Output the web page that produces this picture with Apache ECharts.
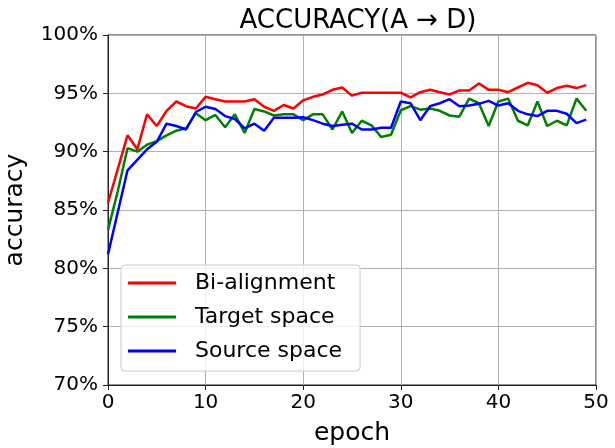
<!DOCTYPE html>
<html>
<head>
<meta charset="utf-8">
<script src="https://cdn.jsdelivr.net/npm/echarts@6/dist/echarts.min.js"></script>
<style>
html,body{margin:0;padding:0;background:#fff;}
#chart{width:615px;height:448px;}
</style>
</head>
<body>
<div id="chart"></div>
<script>
var epochs = [];
for (var i = 0; i < 50; i++) epochs.push(i);

var seriesNames = ['Bi-alignment', 'Target space', 'Source space'];

var biAlignment = [85.6, 88.5, 91.4, 90.2, 93.2, 92.2, 93.5, 94.3, 93.9, 93.7,
  94.7, 94.5, 94.3, 94.3, 94.3, 94.5, 93.85, 93.5, 94.0, 93.7,
  94.4, 94.7, 94.9, 95.3, 95.5, 94.8, 95.05, 95.05, 95.05, 95.05,
  95.05, 94.65, 95.1, 95.3, 95.1, 94.9, 95.25, 95.25, 95.85, 95.3,
  95.3, 95.1, 95.5, 95.9, 95.7, 95.05, 95.45, 95.65, 95.45, 95.7];

var targetSpace = [83.3, 86.6, 90.3, 90.0, 90.6, 90.9, 91.4, 91.8, 92.0, 93.3,
  92.7, 93.15, 92.1, 93.2, 91.6, 93.65, 93.45, 93.1, 93.2, 93.2,
  92.7, 93.2, 93.2, 91.9, 93.45, 91.6, 92.65, 92.25, 91.25, 91.45,
  93.55, 93.9, 93.6, 93.7, 93.5, 93.1, 93.0, 94.55, 94.15, 92.2,
  94.3, 94.55, 92.65, 92.25, 94.3, 92.2, 92.65, 92.25, 94.55, 93.5];

var sourceSpace = [81.2, 84.8, 88.4, 89.3, 90.2, 90.85, 92.4, 92.2, 91.9, 93.4,
  93.85, 93.65, 93.05, 92.8, 92.0, 92.4, 91.8, 92.9, 92.9, 92.9,
  92.95, 92.7, 92.4, 92.2, 92.3, 92.4, 91.9, 91.9, 92.05, 92.05,
  94.3, 94.15, 92.7, 93.9, 94.15, 94.5, 93.9, 93.95, 94.1, 94.35,
  93.95, 94.15, 93.5, 93.2, 93.05, 93.5, 93.5, 93.25, 92.45, 92.75];

var seriesColors = ['#ff0000', '#008000', '#0000ff'];

function pairs(vals) {
  return epochs.map(function (e, i) { return [e, vals[i]]; });
}

var FONT = 'DejaVu Sans';
var chart = echarts.init(document.getElementById('chart'), null, {renderer: 'canvas'});

var allData = [biAlignment, targetSpace, sourceSpace];

chart.setOption({
  animation: false,
  backgroundColor: '#fff',
  title: {
    text: 'ACCURACY(A \u2192 D)',
    left: 353,
    textAlign: 'center',
    top: 3,
    textStyle: {fontFamily: FONT, fontSize: 26, fontWeight: 'normal', color: '#000'}
  },
  grid: {
    left: 108, right: 19, top: 35, bottom: 63,
    containLabel: false,
    outerBoundsMode: 'none',
    show: true, borderColor: '#222', borderWidth: 1, backgroundColor: 'transparent'
  },
  legend: {
    data: seriesNames,
    orient: 'vertical',
    left: 121, top: 265,
    padding: [7, 18, 9, 7],
    icon: 'rect',
    itemWidth: 48, itemHeight: 3, itemGap: 12,
    backgroundColor: 'rgba(255,255,255,0.8)',
    borderColor: '#cccccc', borderWidth: 1, borderRadius: 4,
    textStyle: {fontFamily: FONT, fontSize: 22, color: '#000', padding: [0, 0, 0, 14]}
  },
  xAxis: {
    type: 'value', min: 0, max: 50, interval: 10,
    name: 'epoch', nameLocation: 'middle', nameGap: 36,
    nameTextStyle: {fontFamily: FONT, fontSize: 25, color: '#000'},
    axisLine: {show: true, lineStyle: {color: '#222', width: 1}},
    axisTick: {show: true, inside: false, length: 5, lineStyle: {color: '#222'}},
    axisLabel: {fontFamily: FONT, fontSize: 20, color: '#000', margin: 8},
    splitLine: {show: true, lineStyle: {color: '#b0b0b0', width: 1}}
  },
  yAxis: {
    type: 'value', min: 70, max: 100, interval: 5,
    name: 'accuracy', nameLocation: 'middle', nameGap: 80,
    nameTextStyle: {fontFamily: FONT, fontSize: 25, color: '#000'},
    axisLine: {show: true, lineStyle: {color: '#222', width: 1}},
    axisTick: {show: true, inside: false, length: 5, lineStyle: {color: '#222'}},
    axisLabel: {fontFamily: FONT, fontSize: 20, color: '#000', margin: 10, formatter: '{value}%'},
    splitLine: {show: true, lineStyle: {color: '#b0b0b0', width: 1}}
  },
  series: seriesNames.map(function (name, k) {
    return {
      name: name,
      type: 'line',
      data: pairs(allData[k]),
      symbol: 'none',
      smooth: false,
      color: seriesColors[k],
      lineStyle: {color: seriesColors[k], width: 2.5},
      z: 2 + k
    };
  })
});
</script>
</body>
</html>
